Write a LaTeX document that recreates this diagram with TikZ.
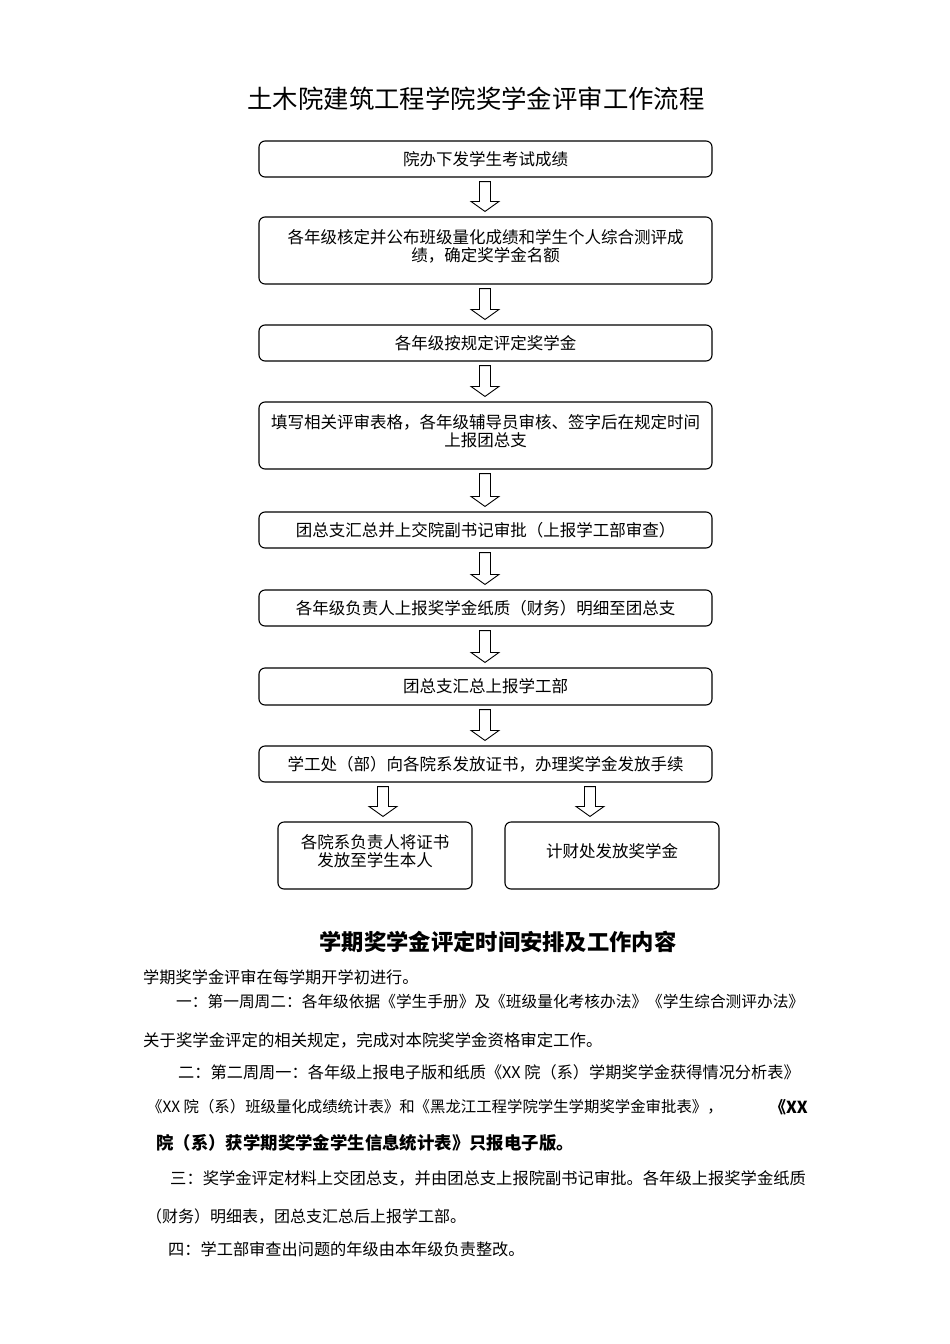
\documentclass[tikz,border=0pt]{standalone}
\usepackage{fontspec}
\setmainfont{Noto Sans CJK SC}
\usetikzlibrary{calc}

% hollow block arrow: from node, to node, x position
\newcommand{\hollowarrow}[3]{%
  \path (#3,0 |- #1.south) ++(0,4) coordinate (top);
  \path (#3,0 |- #2.north) ++(0,-5) coordinate (tip);
  \draw[line width=0.9pt, line join=miter] ($(top)+(-5.5,0)$) -- ($(top)+(5.5,0)$) -- ($(tip)+(5.5,-10)$)
    -- ($(tip)+(14,-10)$) -- (tip) -- ($(tip)+(-14,-10)$) -- ($(tip)+(-5.5,-10)$) -- cycle;
}

\begin{document}
\begin{tikzpicture}[x=1pt, y=-1pt,
    flowbox/.style={draw, rounded corners=6pt, line width=1.1pt, align=center, inner sep=0pt,
      minimum width=453pt, font=\fontsize{16.5}{18}\selectfont},
    tallbox/.style={flowbox, minimum height=67pt, text depth=10pt},
    bodyline/.style={anchor=west, inner sep=0pt, font=\fontsize{16.2}{18}\selectfont}]
        \useasboundingbox (0,0) rectangle (950,1344);

        \node[font=\fontsize{25.4}{28}\selectfont] (title) at (476,99) {土木院建筑工程学院奖学金评审工作流程};

        \node[flowbox, minimum height=36pt] (b1) at (485.5,159) {院办下发学生考试成绩};
        \node[tallbox] (b2) at (485.5,250.5) {各年级核定并公布班级量化成绩和学生个人综合测评成\\绩，确定奖学金名额};
        \node[flowbox, minimum height=36pt] (b3) at (485.5,343) {各年级按规定评定奖学金};
        \node[tallbox] (b4) at (485.5,435.5) {填写相关评审表格，各年级辅导员审核、签字后在规定时间\\上报团总支};
        \node[flowbox, minimum height=36pt] (b5) at (485.5,530) {团总支汇总并上交院副书记审批（上报学工部审查）};
        \node[flowbox, minimum height=36pt] (b6) at (485.5,608) {各年级负责人上报奖学金纸质（财务）明细至团总支};
        \node[flowbox, minimum height=37pt] (b7) at (485.5,686.5) {团总支汇总上报学工部};
        \node[flowbox, minimum height=36pt] (b8) at (485.5,764) {学工处（部）向各院系发放证书，办理奖学金发放手续};
        \node[tallbox, minimum width=194pt] (b9) at (375,855.5) {各院系负责人将证书\\发放至学生本人};
        \node[tallbox, minimum width=214pt] (b10) at (612,855.5) {计财处发放奖学金};

        \hollowarrow{b1}{b2}{485}
        \hollowarrow{b2}{b3}{485}
        \hollowarrow{b3}{b4}{485}
        \hollowarrow{b4}{b5}{485}
        \hollowarrow{b5}{b6}{485}
        \hollowarrow{b6}{b7}{485}
        \hollowarrow{b7}{b8}{485}
        \hollowarrow{b8}{b9}{383}
        \hollowarrow{b8}{b10}{590}

        \node[font=\bfseries\fontsize{22.3}{25}\selectfont] (subtitle) at (498,942) {学期奖学金评定时间安排及工作内容};

        \node[bodyline] (l0) at (143,977) {学期奖学金评审在每学期开学初进行。};
        \node[bodyline, font=\fontsize{15.7}{18}\selectfont] (l1) at (176,1001) {一：第一周周二：各年级依据《学生手册》及《班级量化考核办法》《学生综合测评办法》};
        \node[bodyline, font=\fontsize{16.4}{18}\selectfont] (l2) at (143,1040) {关于奖学金评定的相关规定，完成对本院奖学金资格审定工作。};
        \node[bodyline] (l3) at (178,1072) {二：第二周周一：各年级上报电子版和纸质《XX 院（系）学期奖学金获得情况分析表》};
        \node[bodyline, font=\fontsize{15.4}{18}\selectfont] (l4) at (147,1107) {《XX 院（系）班级量化成绩统计表》和《黑龙江工程学院学生学期奖学金审批表》，};
        \node[anchor=east, inner sep=0pt, font=\bfseries\fontsize{16.5}{18}\selectfont] (l4b) at (808,1107) {《XX};
        \node[bodyline, font=\bfseries\fontsize{17.4}{18}\selectfont] (l5) at (156,1143) {院（系）获学期奖学金学生信息统计表》只报电子版。};
        \node[bodyline, font=\fontsize{16.3}{18}\selectfont] (l6) at (170,1178) {三：奖学金评定材料上交团总支，并由团总支上报院副书记审批。各年级上报奖学金纸质};
        \node[bodyline, font=\fontsize{16}{18}\selectfont] (l7) at (146,1216) {（财务）明细表，团总支汇总后上报学工部。};
        \node[bodyline] (l8) at (168,1249) {四：学工部审查出问题的年级由本年级负责整改。};
    \end{tikzpicture}
\end{document}
